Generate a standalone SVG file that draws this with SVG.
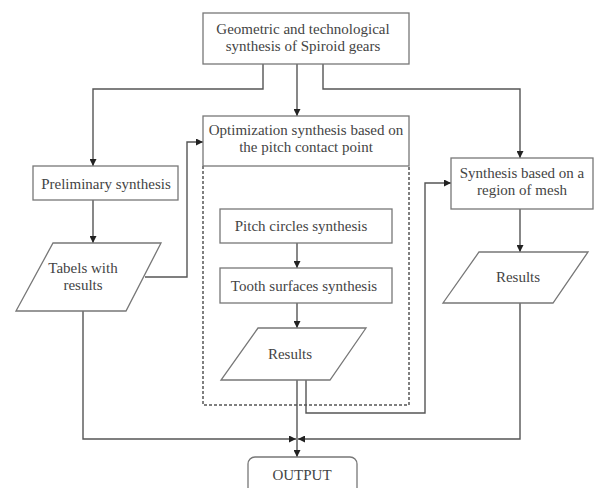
<svg xmlns="http://www.w3.org/2000/svg" width="596" height="488" viewBox="0 0 596 488">
<defs>
<marker id="ah" viewBox="0 0 10 10" refX="10" refY="5" markerWidth="7" markerHeight="7" markerUnits="userSpaceOnUse" orient="auto">
<path d="M0,0 L10,5 L0,10 z" fill="#222"/>
</marker>
<style>
.box{fill:#fff;stroke:#777;stroke-width:1.3}
.dash{fill:none;stroke:#555;stroke-width:1.5;stroke-dasharray:3,2}
.ar{fill:none;stroke:#555;stroke-width:1.4;marker-end:url(#ah)}
.t{font-size:15px;fill:#444;text-anchor:middle}
</style>
</defs>
<rect width="596" height="488" fill="#fff"/>
<g id="connectors">
<polyline class="ar" points="263,64 263,89 93,89 93,166"/>
<polyline class="ar" points="297,64 297,116"/>
<polyline class="ar" points="323,64 323,89 520,89 520,158"/>
<polyline class="ar" points="93,200 93,243"/>
<polyline class="ar" points="145,277 187,277 187,142 203,142"/>
<polyline class="ar" points="297,243 297,268"/>
<polyline class="ar" points="297,303 297,328"/>
<polyline class="ar" points="297,380 297,457"/>
<polyline class="ar" points="306,380 306,413 425,413 425,183 451,183"/>
<polyline class="ar" points="520,209 520,252"/>
<polyline class="ar" points="83,311 83,439 296,439"/>
<polyline class="ar" points="520,303 520,439 298,439"/>
</g>
<g id="dashed-region">
<polyline class="dash" points="203,166 203,405 409,405 409,166"/>
</g>
<g font-family="Liberation Serif, Times New Roman, serif">
<g id="top">
<rect class="box" x="203" y="13" width="206" height="51"/>
<text class="t" x="303" y="34">Geometric and technological</text>
<text class="t" x="303" y="51">synthesis of Spiroid gears</text>
</g>
<g id="optimization">
<rect class="box" x="203" y="116" width="206" height="50"/>
<text class="t" x="306" y="135">Optimization synthesis based on</text>
<text class="t" x="306" y="152">the pitch contact point</text>
</g>
<g id="preliminary">
<rect class="box" x="33" y="166" width="145" height="34"/>
<text class="t" x="106" y="189">Preliminary synthesis</text>
</g>
<g id="tabels">
<polygon class="box" points="53,243 161,243 126,311 16,311"/>
<text class="t" x="83" y="273">Tabels with</text>
<text class="t" x="83" y="290">results</text>
</g>
<g id="pitch-circles">
<rect class="box" x="220" y="209" width="172" height="34"/>
<text class="t" x="301" y="231">Pitch circles synthesis</text>
</g>
<g id="tooth-surfaces">
<rect class="box" x="220" y="268" width="172" height="35"/>
<text class="t" x="304" y="291">Tooth surfaces synthesis</text>
</g>
<g id="results-center">
<polygon class="box" points="258,328 366,328 330,380 221,380"/>
<text class="t" x="290" y="359">Results</text>
</g>
<g id="region-mesh">
<rect class="box" x="451" y="158" width="142" height="51"/>
<text class="t" x="522" y="178">Synthesis based on a</text>
<text class="t" x="522" y="195">region of mesh</text>
</g>
<g id="results-right">
<polygon class="box" points="479,252 588,252 553,303 443,303"/>
<text class="t" x="518" y="282">Results</text>
</g>
<g id="output">
<rect class="box" x="248" y="457" width="109" height="40" rx="7"/>
<text class="t" x="302" y="480">OUTPUT</text>
</g>
</g>
</svg>
